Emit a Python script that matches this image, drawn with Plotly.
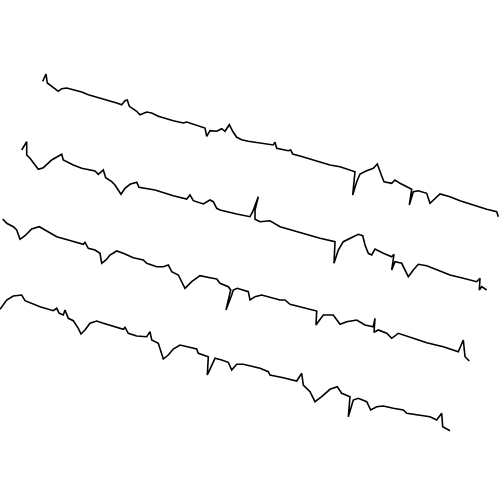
import plotly.graph_objects as go

# Trace 1 (top)
x1 = [42.7, 46, 47.3, 55, 58.3, 61.7, 66.7, 81.7, 88.3, 116.7, 121.7, 125, 127.3, 129.3, 136.7, 140, 146.7, 151.7, 158.3, 173.3, 183.3, 186.7, 196.7, 205, 206.7, 210, 216.7, 221.7, 225, 229.3, 232.7, 236.7, 241.7, 248.3, 273.3, 275, 276.7, 288.3, 290.7, 292.7, 300, 325, 330, 340, 355, 352.7, 356.7, 360, 366.7, 373.3, 377.3, 381.7, 384, 391.7, 395, 400, 411.7, 409.3, 413.3, 418.3, 426.7, 430, 435, 440, 450, 460, 473.3, 480, 486.7, 496.7, 498.3]
y1 = [81.3, 74, 83, 88.7, 91.3, 88.7, 88, 92, 94.7, 103, 104.7, 100.7, 100, 106.3, 111.3, 114.7, 112, 113, 116.3, 120.7, 123, 122, 125.3, 128, 136.3, 130.7, 131.3, 128.7, 131.3, 124.7, 131.3, 137.3, 139.7, 141.3, 145, 142.3, 148.3, 150.7, 150, 154, 156, 163.3, 165, 166.7, 171.7, 195, 181.7, 174, 170.7, 168.3, 164, 176, 181.7, 183.3, 180, 183.3, 189.3, 205, 191.7, 190.7, 193.3, 203.3, 198.3, 194, 196.7, 200.7, 205, 207.3, 209.3, 211.7, 216.7]

# Trace 2
x2 = [21.7, 26.7, 26.7, 30, 38.3, 43.3, 51.7, 60, 61.7, 63.3, 73.3, 81.7, 95, 98.3, 103.3, 105.7, 111.7, 115, 121, 125, 130, 136.7, 139, 155, 173.3, 186.7, 190, 193.3, 203.3, 210, 213.3, 216.7, 220, 236.7, 250, 252.7, 258.3, 255, 255, 260, 270, 280, 303.3, 320, 335, 334, 338.3, 343.3, 353.3, 358.3, 362.7, 365, 368.3, 371.7, 375, 383.3, 391.7, 394, 391.7, 395, 401.7, 408.3, 413.3, 418.3, 426.7, 438.3, 450, 463.3, 476.7, 480, 479.3, 481.7, 486.7]
y2 = [150, 141.7, 155, 158.3, 169.3, 167.7, 160, 155.7, 154.3, 160, 165, 168.3, 171, 174.3, 170, 177.7, 181.7, 185, 194.3, 188.3, 184.3, 182.3, 187.3, 190, 195.7, 199, 195, 200.7, 204, 200, 201.7, 208.3, 210, 214, 216.7, 211.7, 196.7, 210, 219.3, 221.7, 220.7, 226.7, 233.3, 238.3, 241.7, 263.3, 250, 241.7, 236.7, 234.3, 235.7, 245, 253.3, 255, 249, 253.3, 256.7, 254.3, 270, 261.7, 263.3, 276.7, 270, 264.3, 265.7, 270, 275, 278.3, 281.7, 278.3, 290, 286.7, 290]

# Trace 3
x3 = [2.7, 6.7, 13.3, 16.7, 20, 25, 31.7, 39.3, 43.3, 56.7, 71.7, 83.3, 85, 88.3, 95, 100, 101.7, 106, 110, 116.7, 123.3, 133.3, 143.3, 146.7, 156.7, 163.3, 168.3, 171.7, 178.3, 185, 191.7, 200, 210, 216.7, 220, 228.3, 230.7, 226, 231.7, 233.3, 237.3, 248.3, 250, 255, 261.7, 280, 285, 290, 316.7, 316, 318.3, 323.3, 333.3, 340, 346.7, 356.7, 365, 373.3, 375, 374, 378.3, 386.7, 391.7, 398.3, 413.3, 426.7, 443.3, 458.3, 463.3, 465, 469.3]
y3 = [219, 223.3, 226.7, 230, 239.3, 235.7, 229, 226.7, 229, 236.7, 241, 244.3, 242.3, 248.3, 250, 253.3, 263.3, 260, 255, 251, 253.3, 257.7, 260, 263.3, 266.7, 266.7, 265, 271.7, 275, 288.3, 281.7, 275.7, 277.7, 279, 283.3, 286.7, 290, 310, 295, 290, 288.3, 291.7, 300, 296.7, 295, 300, 300, 304.3, 311, 325, 321.7, 315, 315, 324.3, 321.7, 320, 325, 326.7, 318.3, 332.3, 330, 333.3, 338.3, 333.3, 338.3, 342.7, 346.7, 351.7, 340, 356.7, 361]

# Trace 4 (bottom)
x4 = [0, 6.7, 13.3, 21.7, 25, 40, 53.3, 56.7, 59.3, 63.3, 65, 68.3, 73.3, 78.3, 81, 85, 90, 96.7, 103.3, 118.3, 123.3, 125, 128.3, 136.7, 146.7, 150, 151.7, 158.3, 163.3, 168.3, 173.3, 180, 191.7, 196.7, 198.3, 208.3, 207.3, 211.7, 215, 221.7, 228.3, 231.7, 236.7, 243.3, 260, 268.3, 270, 283.3, 296.7, 301.7, 303.3, 310, 315, 321.7, 330, 337.3, 341.7, 350, 348.3, 353.3, 358.3, 366.7, 370.7, 376.7, 383.3, 393.3, 403.3, 406.7, 416.7, 430, 436.7, 441.7, 442.7, 450]
y4 = [309.3, 300, 296, 295, 300.7, 306.7, 310.7, 308.3, 313.3, 315, 310, 318.3, 320.7, 328.3, 334, 330, 323.3, 321, 323.3, 328.3, 329.3, 327.3, 333.3, 336, 336.7, 331.7, 340, 343.3, 359, 355, 349, 345, 348.3, 349, 353.3, 356.7, 375, 365, 358.3, 360, 362.3, 370, 364.3, 364.3, 368.3, 371.7, 375, 377.7, 381, 373.3, 385, 391.7, 401.7, 396.7, 389.3, 386.7, 393.3, 396.7, 416.7, 400, 398.3, 401.7, 410, 406.7, 406, 408.3, 410, 413.3, 415, 416.7, 420, 413.3, 426.7, 430.7]

series = [(x1, y1), (x2, y2), (x3, y3), (x4, y4)]

fig = go.Figure()
for xs, ys in series:
    fig.add_trace(go.Scatter(x=xs, y=ys, mode="lines",
                             line=dict(color="black", width=1.6),
                             showlegend=False, hoverinfo="skip"))

fig.update_layout(
    width=500, height=500,
    margin=dict(l=0, r=0, t=0, b=0),
    paper_bgcolor="white", plot_bgcolor="white",
    xaxis=dict(range=[0, 500], visible=False, fixedrange=True),
    yaxis=dict(range=[500, 0], visible=False, fixedrange=True),
)

fig.write_html("out.html", config={"displayModeBar": False})
